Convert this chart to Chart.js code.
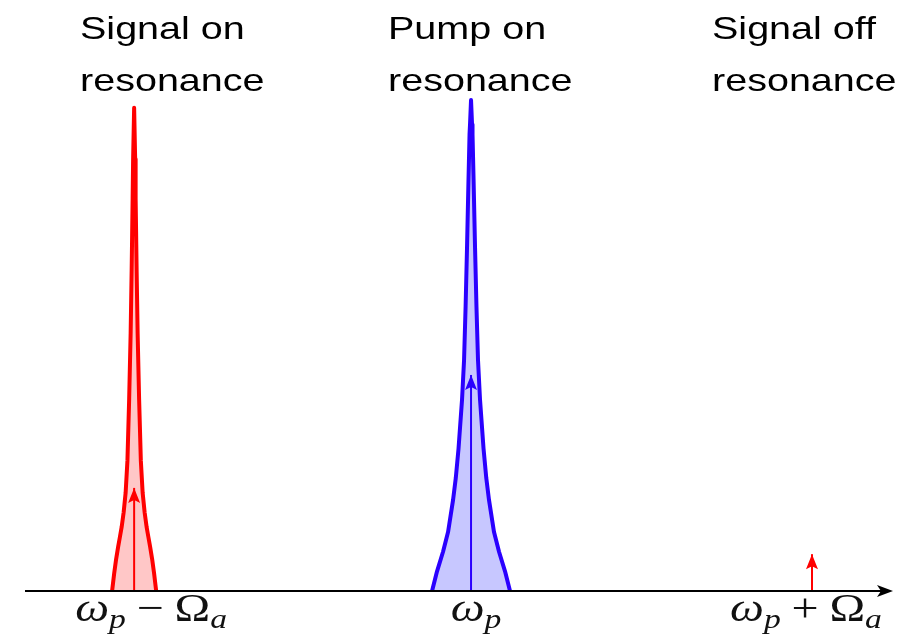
<!DOCTYPE html>
<html>
<head>
<meta charset="utf-8">
<script src="https://cdn.jsdelivr.net/npm/chart.js@4.4.0/dist/chart.umd.min.js"></script>
<style>
    html, body { margin: 0; padding: 0; background: #fff; }
    #wrap { width: 922px; height: 638px; }
</style>
</head>
<body>
<div id="wrap"><canvas id="chart" width="922" height="638"></canvas></div>
<script>

// =========================
// DATA
// =========================

// frequency axis: pump at 0, signal / idler one spacing away
const categories = ["Signal on|resonance", "Pump on|resonance", "Signal off|resonance"];
const lineCenters = [-0.994, 0, 1.006];
const tickLabels = ["ω_p − Ω_a", "ω_p", "ω_p + Ω_a"];
const arrowHeights = [0.21, 0.44, 0.075];

// half-width detuning vs normalised height of the two resonances
const signalOffsets = [0, 0.0030, 0.0044, 0.0074, 0.0103, 0.0147, 0.0198, 0.0251, 0.0310, 0.0369, 0.0420, 0.0472, 0.0531, 0.0590, 0.0650];
const signalHeights = [0.984, 0.88, 0.80, 0.65, 0.525, 0.39, 0.265, 0.20, 0.16, 0.13, 0.11, 0.09, 0.065, 0.035, 0];

const pumpOffsets = [0, 0.0030, 0.0044, 0.0074, 0.0118, 0.0160, 0.0206, 0.0265, 0.0369, 0.0450, 0.0531, 0.0678, 0.0826, 0.1003, 0.1150];
const pumpHeights = [1.0, 0.95, 0.93, 0.84, 0.70, 0.58, 0.47, 0.39, 0.29, 0.23, 0.185, 0.12, 0.080, 0.040, 0];

const RED = "#ff0000";
const BLUE = "#2a00ff";

// =========================
// HELPERS
// =========================

function resonance(center, offsets, heights) {
    const pts = [];
    for (let i = offsets.length - 1; i > 0; i--) {
        pts.push({ x: center - offsets[i], y: heights[i] });
    }
    for (let i = 0; i < offsets.length; i++) {
        pts.push({ x: center + offsets[i], y: heights[i] });
    }
    return pts;
}

function arrowData(i) {
    return [
        { x: lineCenters[i], y: 0 },
        { x: lineCenters[i], y: arrowHeights[i] }
    ];
}

// draws text parts like "ω_p" with a subscript
function drawMath(ctx, label, cx, baseY) {
    const big = 40, small = 28, sx = 1.2, gap = 9;
    const tokens = label.split(" ").map(tok => {
        const [main, sub] = tok.split("_");
        const italic = /[a-zωp]/.test(main);
        return { main, sub, italic };
    });
    const mainFont = t => (t.italic ? "italic " : "") + big + "px 'Liberation Serif'";
    const subFont = "italic " + small + "px 'Liberation Serif'";

    let total = 0;
    tokens.forEach((t, i) => {
        ctx.font = mainFont(t);
        t.w1 = ctx.measureText(t.main).width;
        ctx.font = subFont;
        t.w2 = t.sub ? ctx.measureText(t.sub).width : 0;
        total += t.w1 + t.w2 + (i > 0 ? gap : 0);
    });

    ctx.save();
    ctx.translate(cx, baseY);
    ctx.scale(sx, 1);
    let x = -total / 2;
    ctx.fillStyle = "#111";
    ctx.textBaseline = "alphabetic";
    ctx.textAlign = "left";
    tokens.forEach((t, i) => {
        if (i > 0) x += gap;
        ctx.font = mainFont(t);
        ctx.fillText(t.main, x, 0);
        x += t.w1;
        if (t.sub) {
            ctx.font = subFont;
            ctx.fillText(t.sub, x, 7);
            x += t.w2;
        }
    });
    ctx.restore();
}

// =========================
// PLUGIN: axis, arrows, labels
// =========================

const annotate = {
    id: "annotate",
    afterDatasetsDraw(chart) {
        const { ctx, chartArea, scales: { x, y } } = chart;
        const base = y.getPixelForValue(0);

        // arrow heads on the field lines
        chart.data.datasets.forEach((ds, i) => {
            if (!ds.arrow) return;
            const pt = chart.getDatasetMeta(i).data[1];
            ctx.save();
            ctx.fillStyle = ds.borderColor;
            ctx.beginPath();
            ctx.moveTo(pt.x, pt.y);
            ctx.lineTo(pt.x - 6, pt.y + 15);
            ctx.lineTo(pt.x, pt.y + 12);
            ctx.lineTo(pt.x + 6, pt.y + 15);
            ctx.closePath();
            ctx.fill();
            ctx.restore();
        });

        // frequency axis
        ctx.save();
        ctx.strokeStyle = "#000";
        ctx.fillStyle = "#000";
        ctx.lineWidth = 2;
        ctx.beginPath();
        ctx.moveTo(chartArea.left, base);
        ctx.lineTo(chartArea.right - 10, base);
        ctx.stroke();
        ctx.beginPath();
        ctx.moveTo(chartArea.right, base);
        ctx.lineTo(chartArea.right - 16, base - 6);
        ctx.lineTo(chartArea.right - 12, base);
        ctx.lineTo(chartArea.right - 16, base + 6);
        ctx.closePath();
        ctx.fill();
        ctx.restore();

        // tick labels under the axis
        const nudge = [17, 5, -6];
        tickLabels.forEach((lab, i) => {
            drawMath(ctx, lab, x.getPixelForValue(lineCenters[i]) + nudge[i], base + 30);
        });

        // titles above the peaks
        const lefts = [80, 388, 712];
        ctx.save();
        ctx.fillStyle = "#000";
        ctx.font = "32px 'Liberation Sans'";
        ctx.textAlign = "left";
        ctx.textBaseline = "alphabetic";
        categories.forEach((c, i) => {
            c.split("|").forEach((line, j) => {
                ctx.save();
                ctx.translate(lefts[i], 39 + j * 52);
                ctx.scale(1.235, 1);
                ctx.fillText(line, 0, 0);
                ctx.restore();
            });
        });
        ctx.restore();
    }
};

// =========================
// CHART
// =========================

const ctx = document.getElementById("chart").getContext("2d");

new Chart(ctx, {
    type: "line",
    data: {
        datasets: [
            {
                label: "signal arrow",
                data: arrowData(0),
                borderColor: RED,
                borderWidth: 2,
                pointRadius: 0,
                fill: false,
                arrow: true
            },
            {
                label: "pump arrow",
                data: arrowData(1),
                borderColor: BLUE,
                borderWidth: 2,
                pointRadius: 0,
                fill: false,
                arrow: true
            },
            {
                label: "idler arrow",
                data: arrowData(2),
                borderColor: RED,
                borderWidth: 2,
                pointRadius: 0,
                fill: false,
                arrow: true
            },
            {
                label: "signal resonance",
                data: resonance(lineCenters[0], signalOffsets, signalHeights),
                borderColor: RED,
                backgroundColor: "rgba(255,0,0,0.22)",
                borderWidth: 4,
                pointRadius: 0,
                fill: "origin",
                tension: 0,
                borderJoinStyle: "round"
            },
            {
                label: "pump resonance",
                data: resonance(lineCenters[1], pumpOffsets, pumpHeights),
                borderColor: BLUE,
                backgroundColor: "rgba(0,0,255,0.22)",
                borderWidth: 4,
                pointRadius: 0,
                fill: "origin",
                tension: 0,
                borderJoinStyle: "round"
            }
        ]
    },
    options: {
        responsive: false,
        animation: false,
        devicePixelRatio: 1,
        clip: false,
        layout: {
            padding: { left: 25, right: 29, top: 100, bottom: 47 }
        },
        scales: {
            x: { type: "linear", min: -1.316, max: 1.245, display: false },
            y: { min: 0, max: 1, display: false }
        },
        plugins: {
            legend: { display: false },
            tooltip: { enabled: false }
        }
    },
    plugins: [annotate]
});
</script>
</body>
</html>
